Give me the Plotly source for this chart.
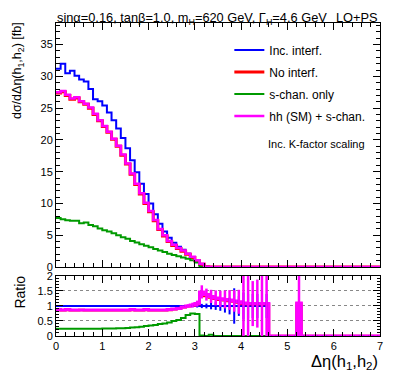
import plotly.graph_objects as go
from plotly.subplots import make_subplots

n_bins = 70
bin_w = 0.1

# main panel, d sigma / d Delta eta [fb], bins of 0.1 starting at 0
inc_interf = [31.2, 32.0, 30.5, 30.9, 30.1, 29.5, 29.2, 28.0, 26.4, 26.1,
              25.4, 24.3, 23.1, 21.8, 20.3, 18.7, 16.8, 14.9, 13.1, 11.5,
              10.0, 8.3, 6.8, 5.6, 4.6, 3.8, 3.2, 2.7, 2.1, 1.5,
              0.95, 0.35, 0.08]
no_interf = [27.4, 27.6, 27.0, 26.4, 26.6, 26.0, 25.6, 25.0, 24.0, 23.0,
             22.1, 21.2, 20.1, 19.0, 17.6, 16.2, 14.6, 13.0, 11.5, 10.0,
             8.7, 7.3, 5.9, 4.9, 4.0, 3.4, 2.9, 2.5, 2.0, 1.5,
             1.0, 0.45, 0.05]
s_chan = [7.7, 7.5, 7.35, 7.3, 7.3, 6.9, 7.0, 6.6, 6.4, 6.05,
          5.8, 5.6, 5.3, 5.0, 4.7, 4.45, 4.1, 3.85, 3.6, 3.35,
          3.1, 2.85, 2.6, 2.35, 2.1, 1.9, 1.7, 1.5, 1.3, 1.05,
          0.72, 0.02, 0.0]
hh_s_chan = [27.5, 27.7, 27.1, 26.5, 26.7, 26.1, 25.7, 25.1, 24.1, 23.1,
             22.2, 21.3, 20.2, 19.1, 17.7, 16.3, 14.7, 13.1, 11.6, 10.1,
             8.8, 7.4, 6.0, 5.0, 4.1, 3.5, 3.0, 2.6, 2.1, 1.6,
             1.05, 0.5, 0.05]

# ratio panel (to Inc. interf.), all 70 bins
ratio_inc = [1.0] * 46 + [0.0] * 6 + [1.0] + [0.0] * 17
ratio_no = ([0.87, 0.86, 0.87, 0.86, 0.86, 0.87, 0.86, 0.86, 0.86, 0.86,
             0.86, 0.86, 0.86, 0.86, 0.86, 0.86, 0.87, 0.86, 0.86, 0.87,
             0.86, 0.86, 0.86, 0.86, 0.87,
             0.89, 0.91, 0.96, 0.99, 1.02, 1.06, 1.38, 1.33, 1.28, 1.24,
             1.21, 1.19, 1.17, 1.15, 1.12,
             1.07, 1.06, 1.06, 1.06, 1.06, 1.06]
            + [0.0] * 6 + [1.08] + [0.0] * 17)
ratio_s = ([0.24, 0.24, 0.24, 0.24, 0.24, 0.24, 0.24, 0.24, 0.245, 0.245,
            0.25, 0.25, 0.25, 0.255, 0.26, 0.27, 0.28, 0.29, 0.31, 0.33,
            0.35, 0.37, 0.40, 0.42, 0.45, 0.50, 0.53, 0.60, 0.70, 0.75,
            0.73, 0.02, 0.0, 0.04]
           + [0.0] * 36)
ratio_hh = ([0.88, 0.87, 0.88, 0.87, 0.87, 0.87, 0.87, 0.87, 0.87, 0.87,
             0.87, 0.87, 0.87, 0.87, 0.87, 0.87, 0.88, 0.87, 0.87, 0.88,
             0.87, 0.87, 0.87, 0.87, 0.88,
             0.90, 0.92, 0.97, 1.00, 1.03, 1.08, 1.47, 1.38, 1.32, 1.27,
             1.24, 1.22, 1.20, 1.17, 1.14,
             1.10, 1.08, 1.08, 1.08, 1.08, 1.08]
            + [0.0] * 6 + [1.10] + [0.0] * 17)

err_inc = ([0.0] * 25
           + [0.02, 0.02, 0.03, 0.03, 0.04, 0.05, 0.07, 0.08, 0.11, 0.13,
              0.16, 0.22, 0.28, 0.59, 0.33,
              0.45, 0.4, 0.4, 0.4, 0.4, 0.4]
           + [0.0] * 6 + [0.5] + [0.0] * 17)
err_hh = ([0.0] * 25
          + [0.03, 0.04, 0.05, 0.06, 0.08, 0.1, 0.22, 0.2, 0.22, 0.25,
             0.27, 0.3, 0.33, 0.36, 0.4,
             1.3, 1.2, 0.75, 0.8, 1.3, 1.3]
          + [0.0] * 6 + [1.3] + [0.0] * 17)

legend_names = ["Inc. interf.", "No interf.", "s-chan. only", "hh (SM) + s-chan."]
colors = ["#0000ff", "#ff0000", "#009a00", "#ff00ff"]

edges = [round(i * bin_w, 2) for i in range(n_bins + 1)]
centers = [round((i + 0.5) * bin_w, 3) for i in range(n_bins)]


def pad(v):
    return v + [0.0] * (n_bins - len(v))


def step(vals):
    # histogram outline, one flat segment per bin
    return vals + [vals[-1]]


fig = make_subplots(rows=2, cols=1, shared_xaxes=True)

main = [inc_interf, no_interf, s_chan, hh_s_chan]
widths = [2, 3, 2, 2.5]
for i in range(4):
    fig.add_trace(go.Scatter(
        x=edges, y=step(pad(main[i])), mode="lines", line_shape="hv",
        line=dict(color=colors[i], width=widths[i]),
        name=legend_names[i], legendgroup=str(i)), row=1, col=1)

ratios = [ratio_inc, ratio_no, ratio_s, ratio_hh]
rwidths = [2, 2.5, 2, 3]
for i in range(4):
    fig.add_trace(go.Scatter(
        x=edges, y=step(ratios[i]), mode="lines", line_shape="hv",
        line=dict(color=colors[i], width=rwidths[i]),
        showlegend=False), row=2, col=1)

# statistical error bars in the ratio
for vals, errs, col, th in [(ratio_inc, err_inc, colors[0], 2),
                            (ratio_hh, err_hh, colors[3], 2.5)]:
    fig.add_trace(go.Scatter(
        x=centers, y=vals, mode="markers",
        marker=dict(color=col, size=1),
        error_y=dict(type="data", array=errs, visible=True, color=col,
                     thickness=th, width=0),
        showlegend=False), row=2, col=1)

ax = dict(showline=True, linecolor="black", linewidth=1, mirror="allticks",
          ticks="inside", tickcolor="black", ticklen=7, zeroline=False,
          tickfont=dict(family="Liberation Sans", size=11, color="black"))

fig.update_xaxes(range=[0, 7], dtick=1, showgrid=False,
                 minor=dict(dtick=0.2, ticks="inside", ticklen=4, tickcolor="black"),
                 **ax)
fig.update_xaxes(showticklabels=False, row=1, col=1)
fig.update_yaxes(range=[0, 38.4], dtick=5, showgrid=False,
                 minor=dict(dtick=1, ticks="inside", ticklen=4, tickcolor="black"),
                 domain=[0.2204, 1], row=1, col=1, **ax)
fig.update_yaxes(range=[0, 2], dtick=0.5, showgrid=True, gridcolor="#888888",
                 griddash="dot", gridwidth=1,
                 minor=dict(dtick=0.1, ticks="inside", ticklen=3, tickcolor="black"),
                 domain=[0, 0.1917], row=2, col=1, **ax)

txt = dict(family="Liberation Sans", color="black")
# the page body keeps an 8px margin, so the figure is sized to fit inside it
fig.update_layout(
    width=383, height=367,
    margin=dict(l=48, r=8, t=15, b=39),
    plot_bgcolor="white", paper_bgcolor="white",
    font=txt,
    legend=dict(x=0.535, y=0.96, xanchor="left", yanchor="top",
                bgcolor="rgba(0,0,0,0)", tracegroupgap=3,
                font=dict(family="Liberation Sans", size=12, color="black")),
    annotations=[
        dict(text="sinα=0.16, tanβ=1.0, m<sub>H</sub>=620 GeV, Γ<sub>H</sub>=4.6 GeV",
             x=-0.003, y=1.0475, xref="paper", yref="paper", xanchor="left",
             yanchor="top", showarrow=False, font=dict(size=12.8, **txt)),
        dict(text="LO+PS", x=1, y=1.0475, xref="paper", yref="paper",
             xanchor="right", yanchor="top", showarrow=False,
             font=dict(size=12.8, **txt)),
        dict(text="Inc. K-factor scaling", x=0.648, y=0.615, xref="paper",
             yref="paper", xanchor="left", yanchor="middle", showarrow=False,
             font=dict(size=11, **txt)),
        dict(text="dσ/dΔη(h<sub>1</sub>,h<sub>2</sub>) [fb]", x=-0.146, y=1.01,
             xref="paper", yref="paper", textangle=-90, yanchor="top",
             showarrow=False, font=dict(size=12.5, **txt)),
        dict(text="Ratio", x=-0.143, y=0.2, xref="paper", yref="paper",
             textangle=-90, yanchor="top", showarrow=False,
             font=dict(size=14, **txt)),
        dict(text="Δη(h<sub>1</sub>,h<sub>2</sub>)", x=1, y=-0.1214,
             xref="paper", yref="paper", xanchor="right", yanchor="bottom",
             showarrow=False, font=dict(size=16.5, **txt)),
    ],
)

fig.write_html("out.html")
